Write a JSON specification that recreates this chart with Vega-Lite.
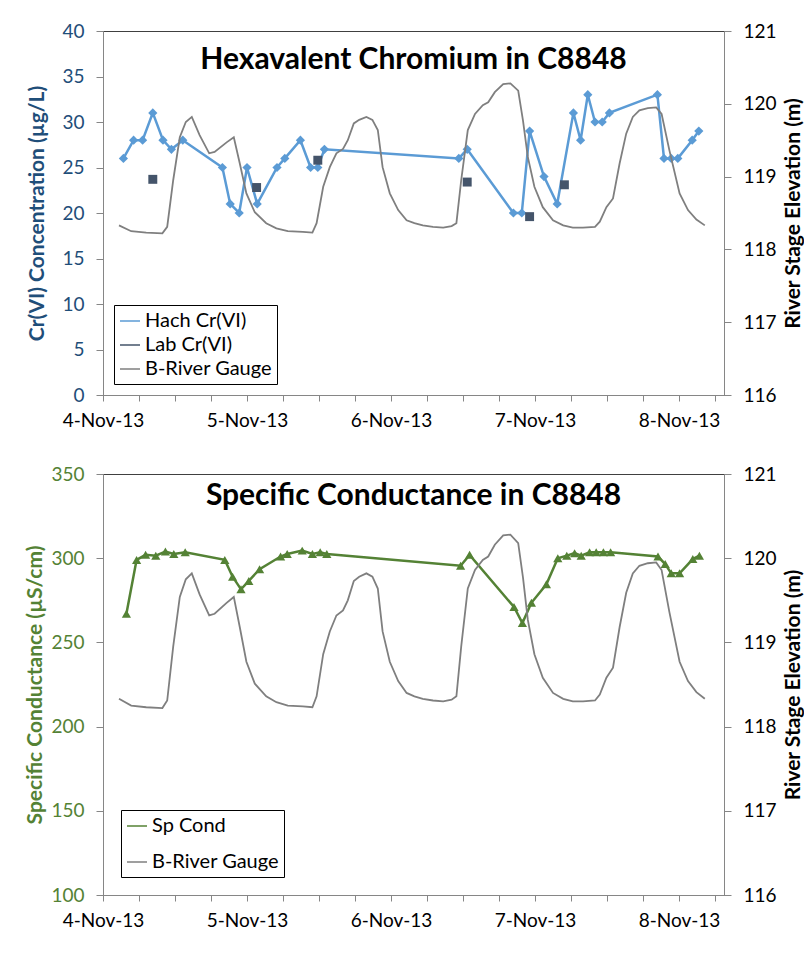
{
  "$schema": "https://vega.github.io/schema/vega-lite/v6.json",
  "background": "#ffffff",
  "padding": {"left": 24, "top": 21, "right": 0, "bottom": 0},
  "spacing": 33,
  "config": {
    "font": "Lato",
    "view": {"stroke": "#404040", "strokeWidth": 1},
    "axis": {"grid": false, "domainColor": "#868686", "tickColor": "#868686", "tickSize": 7, "labelPadding": 12, "labelFontSize": 19, "labelColor": "#000000", "titleFontSize": 21, "titleFontWeight": "bold", "titleColor": "#000000"},
    "title": {"fontWeight": "bold", "fontSize": 30, "color": "#000000", "anchor": "middle", "frame": "group"}
  },
  "vconcat": [
    {
      "width": 621,
      "height": 364,
      "title": {"text": "Hexavalent Chromium in C8848", "offset": -53},
      "layer": [
        {
          "data": {"values": [
            {"t": "2013-11-04T03:24", "v": 26, "s": "Hach Cr(VI)"},
            {"t": "2013-11-04T05:06", "v": 28, "s": "Hach Cr(VI)"},
            {"t": "2013-11-04T06:36", "v": 28, "s": "Hach Cr(VI)"},
            {"t": "2013-11-04T08:18", "v": 31, "s": "Hach Cr(VI)"},
            {"t": "2013-11-04T10:00", "v": 28, "s": "Hach Cr(VI)"},
            {"t": "2013-11-04T11:24", "v": 27, "s": "Hach Cr(VI)"},
            {"t": "2013-11-04T13:18", "v": 28, "s": "Hach Cr(VI)"},
            {"t": "2013-11-04T19:54", "v": 25, "s": "Hach Cr(VI)"},
            {"t": "2013-11-04T21:12", "v": 21, "s": "Hach Cr(VI)"},
            {"t": "2013-11-04T22:42", "v": 20, "s": "Hach Cr(VI)"},
            {"t": "2013-11-05T00:00", "v": 25, "s": "Hach Cr(VI)"},
            {"t": "2013-11-05T01:42", "v": 21, "s": "Hach Cr(VI)"},
            {"t": "2013-11-05T05:00", "v": 25, "s": "Hach Cr(VI)"},
            {"t": "2013-11-05T06:18", "v": 26, "s": "Hach Cr(VI)"},
            {"t": "2013-11-05T08:54", "v": 28, "s": "Hach Cr(VI)"},
            {"t": "2013-11-05T10:36", "v": 25, "s": "Hach Cr(VI)"},
            {"t": "2013-11-05T11:48", "v": 25, "s": "Hach Cr(VI)"},
            {"t": "2013-11-05T12:54", "v": 27, "s": "Hach Cr(VI)"},
            {"t": "2013-11-06T11:18", "v": 26, "s": "Hach Cr(VI)"},
            {"t": "2013-11-06T12:42", "v": 27, "s": "Hach Cr(VI)"},
            {"t": "2013-11-06T20:24", "v": 20, "s": "Hach Cr(VI)"},
            {"t": "2013-11-06T21:48", "v": 20, "s": "Hach Cr(VI)"},
            {"t": "2013-11-06T23:06", "v": 29, "s": "Hach Cr(VI)"},
            {"t": "2013-11-07T01:30", "v": 24, "s": "Hach Cr(VI)"},
            {"t": "2013-11-07T03:42", "v": 21, "s": "Hach Cr(VI)"},
            {"t": "2013-11-07T06:24", "v": 31, "s": "Hach Cr(VI)"},
            {"t": "2013-11-07T07:36", "v": 28, "s": "Hach Cr(VI)"},
            {"t": "2013-11-07T08:48", "v": 33, "s": "Hach Cr(VI)"},
            {"t": "2013-11-07T10:00", "v": 30, "s": "Hach Cr(VI)"},
            {"t": "2013-11-07T11:12", "v": 30, "s": "Hach Cr(VI)"},
            {"t": "2013-11-07T12:24", "v": 31, "s": "Hach Cr(VI)"},
            {"t": "2013-11-07T20:24", "v": 33, "s": "Hach Cr(VI)"},
            {"t": "2013-11-07T21:30", "v": 26, "s": "Hach Cr(VI)"},
            {"t": "2013-11-07T22:42", "v": 26, "s": "Hach Cr(VI)"},
            {"t": "2013-11-07T23:48", "v": 26, "s": "Hach Cr(VI)"},
            {"t": "2013-11-08T02:12", "v": 28, "s": "Hach Cr(VI)"},
            {"t": "2013-11-08T03:18", "v": 29, "s": "Hach Cr(VI)"}
          ]},
          "mark": {"type": "line", "strokeWidth": 2.5, "point": {"shape": "diamond", "size": 85, "filled": true, "opacity": 1}},
          "encoding": {
            "x": {"field": "t", "type": "temporal", "scale": {"domain": [{"year": 2013, "month": 11, "date": 4}, {"year": 2013, "month": 11, "date": 8, "hours": 7, "minutes": 30}], "nice": false}, "axis": {"title": null, "labelExpr": "hours(datum.value) === 0 ? timeFormat(datum.value, '%-d-%b-%y') : ''", "labelOverlap": false, "labelFlush": false, "tickSize": 6, "labelPadding": 10}},
            "y": {"field": "v", "type": "quantitative", "scale": {"domain": [0, 40], "nice": false}, "axis": {"orient": "left", "title": "Cr(VI) Concentration (µg/L)", "values": [0, 5, 10, 15, 20, 25, 30, 35, 40], "labelColor": "#1F4E79", "titleColor": "#1F4E79", "titlePadding": 14}},
            "color": {"field": "s", "type": "nominal", "scale": {"domain": ["Hach Cr(VI)", "Lab Cr(VI)", "B-River Gauge"], "range": ["#5B9BD5", "#44546A", "#7F7F7F"]},
              "legend": {"title": null, "orient": "bottom-left", "offset": 11, "padding": 5, "strokeColor": "#000000", "fillColor": "#ffffff", "labelFontSize": 20, "labelColor": "#000000", "rowPadding": 3, "symbolSize": 400}}
          }
        },
        {
          "data": {"values": [
            {"t": "2013-11-04T08:18", "v": 23.7, "s": "Lab Cr(VI)"},
            {"t": "2013-11-05T01:36", "v": 22.8, "s": "Lab Cr(VI)"},
            {"t": "2013-11-05T11:48", "v": 25.8, "s": "Lab Cr(VI)"},
            {"t": "2013-11-06T12:42", "v": 23.4, "s": "Lab Cr(VI)"},
            {"t": "2013-11-06T23:06", "v": 19.6, "s": "Lab Cr(VI)"},
            {"t": "2013-11-07T04:54", "v": 23.1, "s": "Lab Cr(VI)"}
          ]},
          "mark": {"type": "square", "size": 80, "opacity": 1},
          "encoding": {
            "x": {"field": "t", "type": "temporal"},
            "y": {"field": "v", "type": "quantitative", "scale": {"domain": [0, 40], "nice": false}, "axis": null},
            "color": {"field": "s", "type": "nominal"}
          }
        },
        {
          "data": {"values": [
            {"t": "2013-11-04T02:40", "e": 118.33, "s": "B-River Gauge"},
            {"t": "2013-11-04T04:42", "e": 118.25, "s": "B-River Gauge"},
            {"t": "2013-11-04T07:12", "e": 118.23, "s": "B-River Gauge"},
            {"t": "2013-11-04T09:54", "e": 118.22, "s": "B-River Gauge"},
            {"t": "2013-11-04T10:42", "e": 118.31, "s": "B-River Gauge"},
            {"t": "2013-11-04T11:42", "e": 118.95, "s": "B-River Gauge"},
            {"t": "2013-11-04T12:48", "e": 119.54, "s": "B-River Gauge"},
            {"t": "2013-11-04T13:48", "e": 119.75, "s": "B-River Gauge"},
            {"t": "2013-11-04T14:48", "e": 119.82, "s": "B-River Gauge"},
            {"t": "2013-11-04T16:06", "e": 119.57, "s": "B-River Gauge"},
            {"t": "2013-11-04T17:42", "e": 119.32, "s": "B-River Gauge"},
            {"t": "2013-11-04T18:36", "e": 119.34, "s": "B-River Gauge"},
            {"t": "2013-11-04T20:36", "e": 119.47, "s": "B-River Gauge"},
            {"t": "2013-11-04T21:48", "e": 119.54, "s": "B-River Gauge"},
            {"t": "2013-11-04T22:48", "e": 119.18, "s": "B-River Gauge"},
            {"t": "2013-11-04T23:54", "e": 118.77, "s": "B-River Gauge"},
            {"t": "2013-11-05T01:18", "e": 118.51, "s": "B-River Gauge"},
            {"t": "2013-11-05T03:12", "e": 118.36, "s": "B-River Gauge"},
            {"t": "2013-11-05T04:54", "e": 118.29, "s": "B-River Gauge"},
            {"t": "2013-11-05T06:48", "e": 118.25, "s": "B-River Gauge"},
            {"t": "2013-11-05T09:18", "e": 118.24, "s": "B-River Gauge"},
            {"t": "2013-11-05T10:54", "e": 118.23, "s": "B-River Gauge"},
            {"t": "2013-11-05T11:36", "e": 118.36, "s": "B-River Gauge"},
            {"t": "2013-11-05T12:42", "e": 118.86, "s": "B-River Gauge"},
            {"t": "2013-11-05T13:48", "e": 119.13, "s": "B-River Gauge"},
            {"t": "2013-11-05T14:54", "e": 119.32, "s": "B-River Gauge"},
            {"t": "2013-11-05T16:00", "e": 119.38, "s": "B-River Gauge"},
            {"t": "2013-11-05T16:48", "e": 119.50, "s": "B-River Gauge"},
            {"t": "2013-11-05T17:48", "e": 119.73, "s": "B-River Gauge"},
            {"t": "2013-11-05T18:42", "e": 119.78, "s": "B-River Gauge"},
            {"t": "2013-11-05T19:54", "e": 119.82, "s": "B-River Gauge"},
            {"t": "2013-11-05T20:54", "e": 119.78, "s": "B-River Gauge"},
            {"t": "2013-11-05T21:48", "e": 119.64, "s": "B-River Gauge"},
            {"t": "2013-11-05T22:36", "e": 119.13, "s": "B-River Gauge"},
            {"t": "2013-11-05T23:48", "e": 118.77, "s": "B-River Gauge"},
            {"t": "2013-11-06T01:12", "e": 118.54, "s": "B-River Gauge"},
            {"t": "2013-11-06T02:36", "e": 118.40, "s": "B-River Gauge"},
            {"t": "2013-11-06T03:54", "e": 118.36, "s": "B-River Gauge"},
            {"t": "2013-11-06T05:18", "e": 118.33, "s": "B-River Gauge"},
            {"t": "2013-11-06T07:00", "e": 118.31, "s": "B-River Gauge"},
            {"t": "2013-11-06T08:42", "e": 118.30, "s": "B-River Gauge"},
            {"t": "2013-11-06T10:06", "e": 118.32, "s": "B-River Gauge"},
            {"t": "2013-11-06T10:54", "e": 118.36, "s": "B-River Gauge"},
            {"t": "2013-11-06T11:42", "e": 118.95, "s": "B-River Gauge"},
            {"t": "2013-11-06T12:48", "e": 119.64, "s": "B-River Gauge"},
            {"t": "2013-11-06T14:00", "e": 119.86, "s": "B-River Gauge"},
            {"t": "2013-11-06T15:18", "e": 119.98, "s": "B-River Gauge"},
            {"t": "2013-11-06T16:12", "e": 120.02, "s": "B-River Gauge"},
            {"t": "2013-11-06T17:18", "e": 120.16, "s": "B-River Gauge"},
            {"t": "2013-11-06T18:42", "e": 120.27, "s": "B-River Gauge"},
            {"t": "2013-11-06T19:54", "e": 120.28, "s": "B-River Gauge"},
            {"t": "2013-11-06T21:12", "e": 120.18, "s": "B-River Gauge"},
            {"t": "2013-11-06T22:00", "e": 119.77, "s": "B-River Gauge"},
            {"t": "2013-11-06T22:48", "e": 119.27, "s": "B-River Gauge"},
            {"t": "2013-11-06T23:54", "e": 118.86, "s": "B-River Gauge"},
            {"t": "2013-11-07T01:18", "e": 118.58, "s": "B-River Gauge"},
            {"t": "2013-11-07T03:00", "e": 118.40, "s": "B-River Gauge"},
            {"t": "2013-11-07T04:42", "e": 118.33, "s": "B-River Gauge"},
            {"t": "2013-11-07T06:18", "e": 118.30, "s": "B-River Gauge"},
            {"t": "2013-11-07T08:00", "e": 118.30, "s": "B-River Gauge"},
            {"t": "2013-11-07T10:00", "e": 118.31, "s": "B-River Gauge"},
            {"t": "2013-11-07T10:48", "e": 118.38, "s": "B-River Gauge"},
            {"t": "2013-11-07T11:54", "e": 118.58, "s": "B-River Gauge"},
            {"t": "2013-11-07T13:00", "e": 118.70, "s": "B-River Gauge"},
            {"t": "2013-11-07T14:06", "e": 119.18, "s": "B-River Gauge"},
            {"t": "2013-11-07T15:12", "e": 119.59, "s": "B-River Gauge"},
            {"t": "2013-11-07T16:18", "e": 119.82, "s": "B-River Gauge"},
            {"t": "2013-11-07T17:24", "e": 119.91, "s": "B-River Gauge"},
            {"t": "2013-11-07T18:48", "e": 119.94, "s": "B-River Gauge"},
            {"t": "2013-11-07T20:12", "e": 119.95, "s": "B-River Gauge"},
            {"t": "2013-11-07T21:06", "e": 119.86, "s": "B-River Gauge"},
            {"t": "2013-11-07T22:24", "e": 119.36, "s": "B-River Gauge"},
            {"t": "2013-11-08T00:06", "e": 118.77, "s": "B-River Gauge"},
            {"t": "2013-11-08T01:30", "e": 118.54, "s": "B-River Gauge"},
            {"t": "2013-11-08T02:54", "e": 118.41, "s": "B-River Gauge"},
            {"t": "2013-11-08T04:18", "e": 118.33, "s": "B-River Gauge"}
          ]},
          "mark": {"type": "line", "strokeWidth": 1.8},
          "encoding": {
            "x": {"field": "t", "type": "temporal"},
            "y": {"field": "e", "type": "quantitative", "scale": {"domain": [116, 121], "nice": false, "zero": false}, "axis": {"orient": "right", "title": "River Stage Elevation (m)", "values": [116, 117, 118, 119, 120, 121], "titleAngle": 270, "titlePadding": 27}},
            "color": {"field": "s", "type": "nominal"}
          }
        }
      ],
      "resolve": {"scale": {"y": "independent"}}
    },
    {
      "width": 621,
      "height": 421,
      "title": {"text": "Specific Conductance in C8848", "offset": -46},
      "layer": [
        {
          "data": {"values": [
            {"t": "2013-11-04T03:54", "v": 267, "s": "Sp Cond"},
            {"t": "2013-11-04T05:36", "v": 299, "s": "Sp Cond"},
            {"t": "2013-11-04T07:06", "v": 302, "s": "Sp Cond"},
            {"t": "2013-11-04T08:48", "v": 301.5, "s": "Sp Cond"},
            {"t": "2013-11-04T10:24", "v": 304, "s": "Sp Cond"},
            {"t": "2013-11-04T11:48", "v": 302.5, "s": "Sp Cond"},
            {"t": "2013-11-04T13:42", "v": 303.5, "s": "Sp Cond"},
            {"t": "2013-11-04T20:18", "v": 299, "s": "Sp Cond"},
            {"t": "2013-11-04T21:36", "v": 289, "s": "Sp Cond"},
            {"t": "2013-11-04T23:00", "v": 281.5, "s": "Sp Cond"},
            {"t": "2013-11-05T00:18", "v": 286.5, "s": "Sp Cond"},
            {"t": "2013-11-05T02:06", "v": 293.5, "s": "Sp Cond"},
            {"t": "2013-11-05T05:36", "v": 301, "s": "Sp Cond"},
            {"t": "2013-11-05T06:42", "v": 302.5, "s": "Sp Cond"},
            {"t": "2013-11-05T09:12", "v": 304.5, "s": "Sp Cond"},
            {"t": "2013-11-05T10:54", "v": 302.5, "s": "Sp Cond"},
            {"t": "2013-11-05T12:12", "v": 303.5, "s": "Sp Cond"},
            {"t": "2013-11-05T13:18", "v": 302.5, "s": "Sp Cond"},
            {"t": "2013-11-06T11:36", "v": 295.5, "s": "Sp Cond"},
            {"t": "2013-11-06T13:06", "v": 302, "s": "Sp Cond"},
            {"t": "2013-11-06T20:30", "v": 271, "s": "Sp Cond"},
            {"t": "2013-11-06T21:54", "v": 261.5, "s": "Sp Cond"},
            {"t": "2013-11-06T23:24", "v": 273.5, "s": "Sp Cond"},
            {"t": "2013-11-07T01:54", "v": 284.5, "s": "Sp Cond"},
            {"t": "2013-11-07T03:48", "v": 300, "s": "Sp Cond"},
            {"t": "2013-11-07T05:18", "v": 301.5, "s": "Sp Cond"},
            {"t": "2013-11-07T06:36", "v": 303, "s": "Sp Cond"},
            {"t": "2013-11-07T07:42", "v": 301.5, "s": "Sp Cond"},
            {"t": "2013-11-07T09:06", "v": 303.5, "s": "Sp Cond"},
            {"t": "2013-11-07T10:12", "v": 303.5, "s": "Sp Cond"},
            {"t": "2013-11-07T11:24", "v": 303.5, "s": "Sp Cond"},
            {"t": "2013-11-07T12:36", "v": 303.5, "s": "Sp Cond"},
            {"t": "2013-11-07T20:30", "v": 301, "s": "Sp Cond"},
            {"t": "2013-11-07T21:42", "v": 296.5, "s": "Sp Cond"},
            {"t": "2013-11-07T22:42", "v": 291, "s": "Sp Cond"},
            {"t": "2013-11-08T00:06", "v": 291, "s": "Sp Cond"},
            {"t": "2013-11-08T02:18", "v": 299.5, "s": "Sp Cond"},
            {"t": "2013-11-08T03:24", "v": 301.5, "s": "Sp Cond"}
          ]},
          "mark": {"type": "line", "strokeWidth": 2.5, "point": {"shape": "triangle-up", "size": 85, "filled": true, "opacity": 1}},
          "encoding": {
            "x": {"field": "t", "type": "temporal", "scale": {"domain": [{"year": 2013, "month": 11, "date": 4}, {"year": 2013, "month": 11, "date": 8, "hours": 7, "minutes": 30}], "nice": false}, "axis": {"title": null, "labelExpr": "hours(datum.value) === 0 ? timeFormat(datum.value, '%-d-%b-%y') : ''", "labelOverlap": false, "labelFlush": false, "tickSize": 6, "labelPadding": 10}},
            "y": {"field": "v", "type": "quantitative", "scale": {"domain": [100, 350], "nice": false, "zero": false}, "axis": {"orient": "left", "title": "Specific Conductance (µS/cm)", "values": [100, 150, 200, 250, 300, 350], "labelColor": "#548235", "titleColor": "#548235", "titlePadding": 5}},
            "color": {"field": "s", "type": "nominal", "scale": {"domain": ["Sp Cond", "B-River Gauge"], "range": ["#548235", "#7F7F7F"]},
              "legend": {"title": null, "orient": "bottom-left", "offset": 18, "padding": 5, "strokeColor": "#000000", "fillColor": "#ffffff", "labelFontSize": 20, "labelColor": "#000000", "rowPadding": 15, "symbolSize": 400}}
          }
        },
        {
          "data": {"values": [
            {"t": "2013-11-04T02:40", "e": 118.33, "s": "B-River Gauge"},
            {"t": "2013-11-04T04:42", "e": 118.25, "s": "B-River Gauge"},
            {"t": "2013-11-04T07:12", "e": 118.23, "s": "B-River Gauge"},
            {"t": "2013-11-04T09:54", "e": 118.22, "s": "B-River Gauge"},
            {"t": "2013-11-04T10:42", "e": 118.31, "s": "B-River Gauge"},
            {"t": "2013-11-04T11:42", "e": 118.95, "s": "B-River Gauge"},
            {"t": "2013-11-04T12:48", "e": 119.54, "s": "B-River Gauge"},
            {"t": "2013-11-04T13:48", "e": 119.75, "s": "B-River Gauge"},
            {"t": "2013-11-04T14:48", "e": 119.82, "s": "B-River Gauge"},
            {"t": "2013-11-04T16:06", "e": 119.57, "s": "B-River Gauge"},
            {"t": "2013-11-04T17:42", "e": 119.32, "s": "B-River Gauge"},
            {"t": "2013-11-04T18:36", "e": 119.34, "s": "B-River Gauge"},
            {"t": "2013-11-04T20:36", "e": 119.47, "s": "B-River Gauge"},
            {"t": "2013-11-04T21:48", "e": 119.54, "s": "B-River Gauge"},
            {"t": "2013-11-04T22:48", "e": 119.18, "s": "B-River Gauge"},
            {"t": "2013-11-04T23:54", "e": 118.77, "s": "B-River Gauge"},
            {"t": "2013-11-05T01:18", "e": 118.51, "s": "B-River Gauge"},
            {"t": "2013-11-05T03:12", "e": 118.36, "s": "B-River Gauge"},
            {"t": "2013-11-05T04:54", "e": 118.29, "s": "B-River Gauge"},
            {"t": "2013-11-05T06:48", "e": 118.25, "s": "B-River Gauge"},
            {"t": "2013-11-05T09:18", "e": 118.24, "s": "B-River Gauge"},
            {"t": "2013-11-05T10:54", "e": 118.23, "s": "B-River Gauge"},
            {"t": "2013-11-05T11:36", "e": 118.36, "s": "B-River Gauge"},
            {"t": "2013-11-05T12:42", "e": 118.86, "s": "B-River Gauge"},
            {"t": "2013-11-05T13:48", "e": 119.13, "s": "B-River Gauge"},
            {"t": "2013-11-05T14:54", "e": 119.32, "s": "B-River Gauge"},
            {"t": "2013-11-05T16:00", "e": 119.38, "s": "B-River Gauge"},
            {"t": "2013-11-05T16:48", "e": 119.50, "s": "B-River Gauge"},
            {"t": "2013-11-05T17:48", "e": 119.73, "s": "B-River Gauge"},
            {"t": "2013-11-05T18:42", "e": 119.78, "s": "B-River Gauge"},
            {"t": "2013-11-05T19:54", "e": 119.82, "s": "B-River Gauge"},
            {"t": "2013-11-05T20:54", "e": 119.78, "s": "B-River Gauge"},
            {"t": "2013-11-05T21:48", "e": 119.64, "s": "B-River Gauge"},
            {"t": "2013-11-05T22:36", "e": 119.13, "s": "B-River Gauge"},
            {"t": "2013-11-05T23:48", "e": 118.77, "s": "B-River Gauge"},
            {"t": "2013-11-06T01:12", "e": 118.54, "s": "B-River Gauge"},
            {"t": "2013-11-06T02:36", "e": 118.40, "s": "B-River Gauge"},
            {"t": "2013-11-06T03:54", "e": 118.36, "s": "B-River Gauge"},
            {"t": "2013-11-06T05:18", "e": 118.33, "s": "B-River Gauge"},
            {"t": "2013-11-06T07:00", "e": 118.31, "s": "B-River Gauge"},
            {"t": "2013-11-06T08:42", "e": 118.30, "s": "B-River Gauge"},
            {"t": "2013-11-06T10:06", "e": 118.32, "s": "B-River Gauge"},
            {"t": "2013-11-06T10:54", "e": 118.36, "s": "B-River Gauge"},
            {"t": "2013-11-06T11:42", "e": 118.95, "s": "B-River Gauge"},
            {"t": "2013-11-06T12:48", "e": 119.64, "s": "B-River Gauge"},
            {"t": "2013-11-06T14:00", "e": 119.86, "s": "B-River Gauge"},
            {"t": "2013-11-06T15:18", "e": 119.98, "s": "B-River Gauge"},
            {"t": "2013-11-06T16:12", "e": 120.02, "s": "B-River Gauge"},
            {"t": "2013-11-06T17:18", "e": 120.16, "s": "B-River Gauge"},
            {"t": "2013-11-06T18:42", "e": 120.27, "s": "B-River Gauge"},
            {"t": "2013-11-06T19:54", "e": 120.28, "s": "B-River Gauge"},
            {"t": "2013-11-06T21:12", "e": 120.18, "s": "B-River Gauge"},
            {"t": "2013-11-06T22:00", "e": 119.77, "s": "B-River Gauge"},
            {"t": "2013-11-06T22:48", "e": 119.27, "s": "B-River Gauge"},
            {"t": "2013-11-06T23:54", "e": 118.86, "s": "B-River Gauge"},
            {"t": "2013-11-07T01:18", "e": 118.58, "s": "B-River Gauge"},
            {"t": "2013-11-07T03:00", "e": 118.40, "s": "B-River Gauge"},
            {"t": "2013-11-07T04:42", "e": 118.33, "s": "B-River Gauge"},
            {"t": "2013-11-07T06:18", "e": 118.30, "s": "B-River Gauge"},
            {"t": "2013-11-07T08:00", "e": 118.30, "s": "B-River Gauge"},
            {"t": "2013-11-07T10:00", "e": 118.31, "s": "B-River Gauge"},
            {"t": "2013-11-07T10:48", "e": 118.38, "s": "B-River Gauge"},
            {"t": "2013-11-07T11:54", "e": 118.58, "s": "B-River Gauge"},
            {"t": "2013-11-07T13:00", "e": 118.70, "s": "B-River Gauge"},
            {"t": "2013-11-07T14:06", "e": 119.18, "s": "B-River Gauge"},
            {"t": "2013-11-07T15:12", "e": 119.59, "s": "B-River Gauge"},
            {"t": "2013-11-07T16:18", "e": 119.82, "s": "B-River Gauge"},
            {"t": "2013-11-07T17:24", "e": 119.91, "s": "B-River Gauge"},
            {"t": "2013-11-07T18:48", "e": 119.94, "s": "B-River Gauge"},
            {"t": "2013-11-07T20:12", "e": 119.95, "s": "B-River Gauge"},
            {"t": "2013-11-07T21:06", "e": 119.86, "s": "B-River Gauge"},
            {"t": "2013-11-07T22:24", "e": 119.36, "s": "B-River Gauge"},
            {"t": "2013-11-08T00:06", "e": 118.77, "s": "B-River Gauge"},
            {"t": "2013-11-08T01:30", "e": 118.54, "s": "B-River Gauge"},
            {"t": "2013-11-08T02:54", "e": 118.41, "s": "B-River Gauge"},
            {"t": "2013-11-08T04:18", "e": 118.33, "s": "B-River Gauge"}
          ]},
          "mark": {"type": "line", "strokeWidth": 1.8},
          "encoding": {
            "x": {"field": "t", "type": "temporal"},
            "y": {"field": "e", "type": "quantitative", "scale": {"domain": [116, 121], "nice": false, "zero": false}, "axis": {"orient": "right", "title": "River Stage Elevation (m)", "values": [116, 117, 118, 119, 120, 121], "titleAngle": 270, "titlePadding": 27}},
            "color": {"field": "s", "type": "nominal"}
          }
        }
      ],
      "resolve": {"scale": {"y": "independent"}}
    }
  ],
  "resolve": {"scale": {"color": "independent", "x": "independent"}, "legend": {"color": "independent"}}
}
